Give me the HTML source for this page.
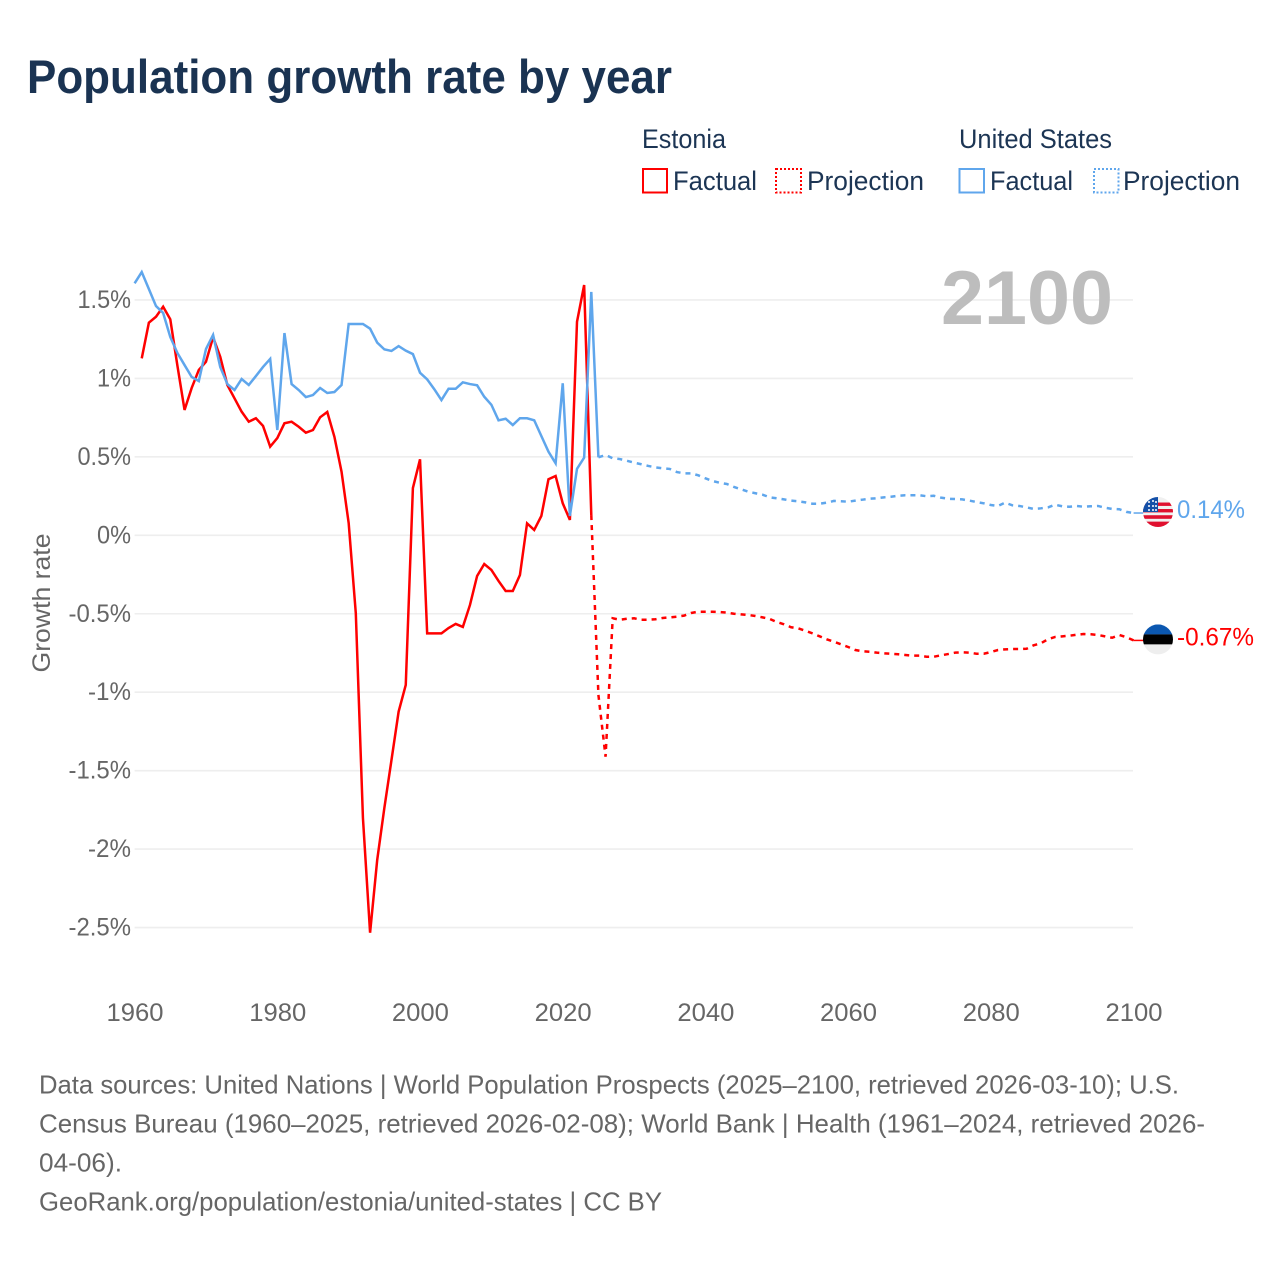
<!DOCTYPE html>
<html lang="en">
<head>
<meta charset="utf-8">
<title>Population growth rate by year</title>
<style>
  html,body{margin:0;padding:0;background:#fff;width:1280px;height:1280px;overflow:hidden}
  svg{display:block}
  text{font-family:"Liberation Sans",sans-serif}
</style>
</head>
<body>
<svg id="chart" xmlns="http://www.w3.org/2000/svg" width="1280" height="1280" viewBox="0 0 1280 1280">
  <rect width="1280" height="1280" fill="#fff"/>
  <text x="27" y="93" font-size="47" font-weight="700" fill="#1a3352" textLength="645" lengthAdjust="spacingAndGlyphs">Population growth rate by year</text>

  <g font-size="26.5" fill="#1c3554">
    <text x="642" y="148" textLength="84" lengthAdjust="spacingAndGlyphs">Estonia</text>
    <text x="959" y="148" textLength="153" lengthAdjust="spacingAndGlyphs">United States</text>
    <g>
      <rect x="643" y="169" width="24" height="23.5" fill="none" stroke="#ff0000" stroke-width="2"/>
      <text x="673" y="190" textLength="84" lengthAdjust="spacingAndGlyphs">Factual</text>
    </g>
    <g>
      <rect x="776" y="169" width="25" height="23.5" fill="none" stroke="#ff0000" stroke-width="2" stroke-dasharray="2 2"/>
      <text x="807" y="190" textLength="117" lengthAdjust="spacingAndGlyphs">Projection</text>
    </g>
    <g>
      <rect x="959.5" y="169" width="24.5" height="23.5" fill="none" stroke="#5fa6ec" stroke-width="2"/>
      <text x="990" y="190" textLength="83" lengthAdjust="spacingAndGlyphs">Factual</text>
    </g>
    <g>
      <rect x="1094" y="169" width="24.5" height="23.5" fill="none" stroke="#5fa6ec" stroke-width="2" stroke-dasharray="2 2"/>
      <text x="1123" y="190" textLength="117" lengthAdjust="spacingAndGlyphs">Projection</text>
    </g>
  </g>

  <g id="grid"></g>
  <text x="941" y="324" font-size="76" font-weight="700" fill="#bdbdbd" textLength="172" lengthAdjust="spacingAndGlyphs">2100</text>
  <g id="yticks" font-size="25" fill="#666"></g>
  <g id="xticks" font-size="25" fill="#666"></g>
  <text transform="translate(50,603) rotate(-90)" text-anchor="middle" font-size="25" fill="#666" textLength="139" lengthAdjust="spacingAndGlyphs">Growth rate</text>
  <g id="series"></g>

  <defs>
    <clipPath id="flag-clip"><circle cx="0" cy="0" r="15"/></clipPath>
  </defs>

  <g id="flag-us" clip-path="url(#flag-clip)">
    <rect x="-15" y="-15" width="30" height="30" fill="#f0f0f0"/>
    <rect x="-15" y="-9.5" width="30" height="3.4" fill="#e0102f"/>
    <rect x="-15" y="-3" width="30" height="3.4" fill="#e0102f"/>
    <rect x="-15" y="3.2" width="30" height="3.6" fill="#e0102f"/>
    <rect x="-15" y="9.6" width="30" height="5.4" fill="#e0102f"/>
    <rect x="-15" y="-15" width="15" height="15" fill="#1450a8"/>
    <g fill="#fff">
      <circle cx="-9" cy="-10" r="1"/><circle cx="-5" cy="-11" r="1"/><circle cx="-2" cy="-10" r="1"/>
      <circle cx="-9" cy="-6" r="1"/><circle cx="-5" cy="-6" r="1"/><circle cx="-2" cy="-6" r="1"/>
      <circle cx="-9" cy="-2" r="1"/><circle cx="-5" cy="-2" r="1"/><circle cx="-2" cy="-2" r="1"/>
    </g>
  </g>
  <g id="flag-ee" clip-path="url(#flag-clip)">
    <rect x="-15" y="-15" width="30" height="10" fill="#0b57b0"/>
    <rect x="-15" y="-5" width="30" height="10" fill="#000"/>
    <rect x="-15" y="5" width="30" height="10" fill="#eeeeee"/>
  </g>
  <text id="label-us" x="1177" font-size="25" fill="#5fa6ec" textLength="68" lengthAdjust="spacingAndGlyphs"></text>
  <text id="label-ee" x="1177" font-size="25" fill="#ff0000" textLength="77" lengthAdjust="spacingAndGlyphs"></text>

  <g font-size="26" fill="#666">
    <text x="39" y="1093.5" textLength="1140" lengthAdjust="spacingAndGlyphs">Data sources: United Nations | World Population Prospects (2025–2100, retrieved 2026-03-10); U.S.</text>
    <text x="39" y="1132.5" textLength="1166" lengthAdjust="spacingAndGlyphs">Census Bureau (1960–2025, retrieved 2026-02-08); World Bank | Health (1961–2024, retrieved 2026-</text>
    <text x="39" y="1171.5" textLength="83" lengthAdjust="spacingAndGlyphs">04-06).</text>
    <text x="39" y="1210.5" textLength="623" lengthAdjust="spacingAndGlyphs">GeoRank.org/population/estonia/united-states | CC BY</text>
  </g>
</svg>

<script>
const yTickValues = [1.5, 1, 0.5, 0, -0.5, -1, -1.5, -2, -2.5];
const yTickLabels = ["1.5%", "1%", "0.5%", "0%", "-0.5%", "-1%", "-1.5%", "-2%", "-2.5%"];
const xTickYears = [1960, 1980, 2000, 2020, 2040, 2060, 2080, 2100];

const usFactualStart = 1960;
const usFactual = [1.606,1.678,1.570,1.461,1.417,1.264,1.162,1.085,1.009,0.983,
  1.187,1.277,1.073,0.964,0.926,0.996,0.958,1.015,1.073,1.124,
  0.671,1.289,0.964,0.926,0.881,0.894,0.939,0.907,0.913,0.958,
  1.347,1.347,1.347,1.317,1.228,1.185,1.175,1.206,1.177,1.155,
  1.036,0.994,0.931,0.862,0.934,0.934,0.975,0.964,0.956,0.883,
  0.832,0.733,0.743,0.703,0.746,0.746,0.733,0.633,0.533,0.459,
  0.969,0.123,0.424,0.495,1.551,0.497];

const usProjectionStart = 2025;
const usProjection = [0.497,0.512,0.491,0.486,0.475,0.463,0.453,0.442,0.433,0.427,
  0.423,0.403,0.395,0.395,0.382,0.363,0.346,0.335,0.327,0.308,
  0.293,0.278,0.268,0.259,0.242,0.236,0.229,0.221,0.217,0.210,
  0.201,0.201,0.208,0.219,0.217,0.214,0.221,0.227,0.233,0.236,
  0.242,0.246,0.252,0.255,0.255,0.255,0.249,0.252,0.240,0.233,
  0.231,0.229,0.221,0.212,0.204,0.193,0.187,0.208,0.191,0.187,
  0.178,0.168,0.172,0.178,0.195,0.185,0.182,0.187,0.182,0.185,
  0.187,0.176,0.168,0.166,0.149,0.142];

const estoniaFactualStart = 1961;
const estoniaFactual = [1.128,1.355,1.393,1.457,1.377,1.081,0.799,0.939,1.054,
  1.106,1.262,1.138,0.958,0.873,0.788,0.724,0.746,0.697,0.565,
  0.620,0.714,0.724,0.692,0.654,0.671,0.752,0.786,0.628,0.405,
  0.078,-0.497,-1.802,-2.533,-2.069,-1.738,-1.432,-1.124,-0.954,0.301,
  0.484,-0.625,-0.625,-0.625,-0.591,-0.565,-0.584,-0.444,-0.259,-0.183,
  -0.221,-0.291,-0.355,-0.355,-0.253,0.076,0.034,0.123,0.357,0.378,
  0.204,0.098,1.361,1.595,0.129];

const estoniaProjectionStart = 2024;
const estoniaProjection = [0.129,-1.018,-1.411,-0.529,-0.538,-0.532,
  -0.529,-0.538,-0.538,-0.535,-0.527,-0.523,-0.519,-0.512,-0.495,-0.487,
  -0.487,-0.487,-0.489,-0.493,-0.500,-0.504,-0.508,-0.514,-0.523,-0.533,
  -0.553,-0.567,-0.586,-0.593,-0.608,-0.625,-0.644,-0.663,-0.678,-0.695,
  -0.712,-0.731,-0.739,-0.742,-0.748,-0.752,-0.755,-0.758,-0.763,-0.767,
  -0.767,-0.774,-0.774,-0.765,-0.757,-0.748,-0.746,-0.748,-0.755,-0.755,
  -0.744,-0.731,-0.727,-0.725,-0.725,-0.723,-0.701,-0.688,-0.663,-0.648,
  -0.644,-0.640,-0.634,-0.629,-0.631,-0.635,-0.644,-0.653,-0.635,-0.650,-0.670];

const endLabelUS = "0.14%";
const endLabelEstonia = "-0.67%";

const NS = "http://www.w3.org/2000/svg";
function xScale(year) { return 134.6 + (year - 1960) * (999 / 140); }
function yScale(value) { return 535.3 - value * 156.9; }
function tickWidth(str) {
  let w = 0;
  for (const c of str) {
    if (c === "%") w += 0.78;
    else if (c === ".") w += 0.2;
    else if (c === "-") w += 0.36;
    else w += 0.58;
  }
  return w * 25;
}
function pathFor(values, startYear) {
  return values.map(function (v, i) {
    return (i ? "L" : "M") + xScale(startYear + i).toFixed(2) + " " + yScale(v).toFixed(2);
  }).join(" ");
}

const gridGroup = document.getElementById("grid");
const yTickGroup = document.getElementById("yticks");
yTickValues.forEach(function (v, i) {
  const line = document.createElementNS(NS, "line");
  
  
  line.setAttribute("x1", xScale(1960));
  line.setAttribute("x2", xScale(2100) - 0.6);
  line.setAttribute("y1", yScale(v));
  line.setAttribute("y2", yScale(v));
  line.setAttribute("stroke", "#eeeeee");
  line.setAttribute("stroke-width", "1.6");
  gridGroup.appendChild(line);

  const t = document.createElementNS(NS, "text");
  
  
  t.setAttribute("x", 131 - tickWidth(yTickLabels[i]));
  t.setAttribute("y", yScale(v) + 8);
  t.setAttribute("textLength", tickWidth(yTickLabels[i]));
  t.setAttribute("lengthAdjust", "spacingAndGlyphs");
  t.textContent = yTickLabels[i];
  yTickGroup.appendChild(t);
});

const xTickGroup = document.getElementById("xticks");
xTickYears.forEach(function (year) {
  const t = document.createElementNS(NS, "text");
  
  
  t.setAttribute("x", xScale(year) - 28.1);
  t.setAttribute("y", 1021);
  t.setAttribute("textLength", "57");
  t.setAttribute("lengthAdjust", "spacingAndGlyphs");
  t.textContent = String(year);
  xTickGroup.appendChild(t);
});

const seriesGroup = document.getElementById("series");

const estFactualPath = document.createElementNS(NS, "path");


estFactualPath.setAttribute("d", pathFor(estoniaFactual, estoniaFactualStart));
estFactualPath.setAttribute("fill", "none");
estFactualPath.setAttribute("stroke", "#ff0000");
estFactualPath.setAttribute("stroke-width", "2.5");
seriesGroup.appendChild(estFactualPath);

const estProjPath = document.createElementNS(NS, "path");


estProjPath.setAttribute("d", pathFor(estoniaProjection, estoniaProjectionStart));
estProjPath.setAttribute("fill", "none");
estProjPath.setAttribute("stroke", "#ff0000");
estProjPath.setAttribute("stroke-width", "2.5");
estProjPath.setAttribute("stroke-dasharray", "5 5");
seriesGroup.appendChild(estProjPath);

const usFactualPath = document.createElementNS(NS, "path");


usFactualPath.setAttribute("d", pathFor(usFactual, usFactualStart));
usFactualPath.setAttribute("fill", "none");
usFactualPath.setAttribute("stroke", "#5fa6ec");
usFactualPath.setAttribute("stroke-width", "2.5");
seriesGroup.appendChild(usFactualPath);

const usProjPath = document.createElementNS(NS, "path");


usProjPath.setAttribute("d", pathFor(usProjection, usProjectionStart));
usProjPath.setAttribute("fill", "none");
usProjPath.setAttribute("stroke", "#5fa6ec");
usProjPath.setAttribute("stroke-width", "2.5");
usProjPath.setAttribute("stroke-dasharray", "5 5");
seriesGroup.appendChild(usProjPath);

const usLast = usProjection[usProjection.length - 1];
const estLast = estoniaProjection[estoniaProjection.length - 1];

const usConnector = document.createElementNS(NS, "line");


usConnector.setAttribute("x1", xScale(2100));
usConnector.setAttribute("x2", xScale(2100) + 10);
usConnector.setAttribute("y1", yScale(usLast));
usConnector.setAttribute("y2", yScale(usLast));
usConnector.setAttribute("stroke", "#5fa6ec");
usConnector.setAttribute("stroke-width", "1.5");
seriesGroup.appendChild(usConnector);

const estConnector = document.createElementNS(NS, "line");


estConnector.setAttribute("x1", xScale(2100));
estConnector.setAttribute("x2", xScale(2100) + 10);
estConnector.setAttribute("y1", yScale(estLast));
estConnector.setAttribute("y2", yScale(estLast));
estConnector.setAttribute("stroke", "#ff0000");
estConnector.setAttribute("stroke-width", "1.5");
seriesGroup.appendChild(estConnector);

document.getElementById("flag-us").setAttribute("transform", "translate(1158," + (yScale(usLast) - 1) + ")");
document.getElementById("flag-ee").setAttribute("transform", "translate(1158," + (yScale(estLast) - 1) + ")");

const labelUS = document.getElementById("label-us");
labelUS.setAttribute("y", yScale(usLast) + 5);
labelUS.textContent = endLabelUS;

const labelEE = document.getElementById("label-ee");
labelEE.setAttribute("y", yScale(estLast) + 5);
labelEE.textContent = endLabelEstonia;
</script>
</body>
</html>
